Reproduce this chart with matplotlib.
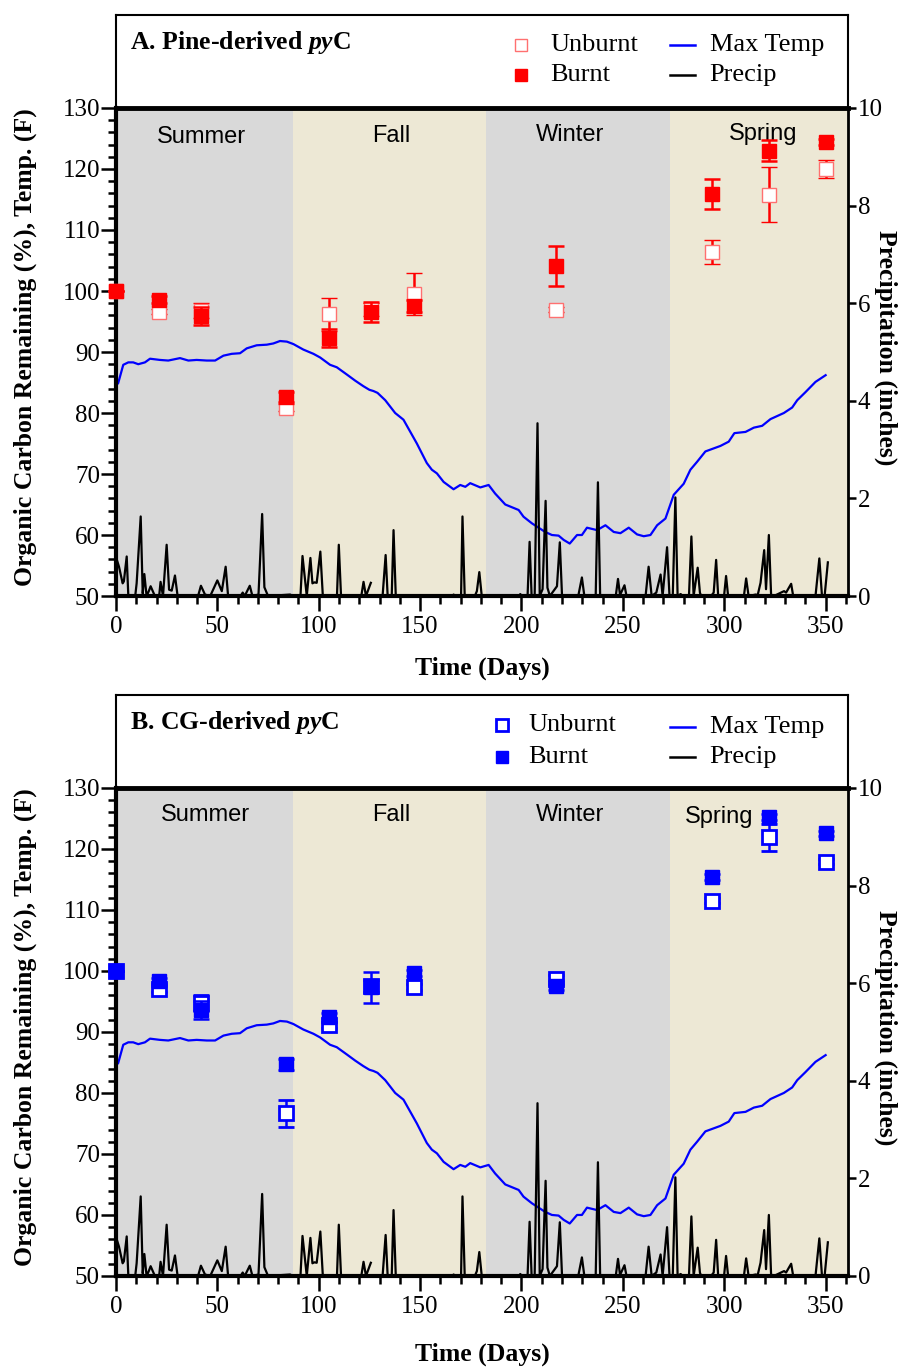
import numpy as np
import matplotlib.pyplot as plt
from matplotlib.ticker import MultipleLocator

plt.rcParams['font.family'] = ['Liberation Serif', 'DejaVu Serif']
plt.rcParams['mathtext.fontset'] = 'custom'
plt.rcParams['mathtext.rm'] = 'Liberation Serif:bold'
plt.rcParams['mathtext.it'] = 'Liberation Serif:italic:bold'

# daily max temperature (F)
temp_days = [0, 1.1, 3.6, 6.1, 8.5, 11, 14.3, 16.8, 21.7, 25.8, 31.6, 35.7, 39.8,
             44.8, 48.9, 53, 57.1, 61.2, 64.5, 69.4, 74.4, 77.6, 80.9, 84.3, 87.5,
             92.4, 97.4, 100.7, 105.6, 108.9, 113.9, 118, 122, 125, 127, 129,
             132.8, 137.7, 141.8, 148.4, 153.3, 155.8, 158.3, 161.6, 166.5, 169.8,
             172.3, 174.7, 179.7, 183.8, 187, 192, 198.6, 201, 205.2, 211.7, 215,
             218.3, 220.8, 223.8, 227.4, 229.8, 232.3, 237.3, 241.4, 245.5, 248.8,
             252.9, 257, 260.3, 263.6, 266.9, 271, 275.1, 280, 283.3, 286.6, 290.7,
             298.1, 302.2, 305, 310.5, 314.6, 318.7, 322.8, 329.4, 333.5, 336, 340,
             345, 350]
max_temp = [84.5, 84.9, 87.9, 88.3, 88.3, 88.0, 88.3, 88.9, 88.7, 88.6, 89.0, 88.6, 88.7,
            88.6, 88.6, 89.4, 89.7, 89.8, 90.6, 91.1, 91.2, 91.4, 91.8, 91.7, 91.3,
            90.4, 89.7, 89.1, 87.9, 87.5, 86.3, 85.3, 84.4, 83.8, 83.6, 83.3,
            82.1, 80.0, 78.9, 75.0, 71.8, 70.7, 70.1, 68.7, 67.5, 68.2,
            67.9, 68.5, 67.8, 68.2, 66.8, 65.0, 64.1, 63.0, 61.9, 60.5, 60.0,
            59.9, 59.2, 58.6, 60.0, 60.0, 61.2, 60.8, 61.6, 60.5, 60.3,
            61.2, 60.1, 59.8, 60.0, 61.6, 62.7, 66.6, 68.4, 70.7, 72.0, 73.7,
            74.6, 75.3, 76.7, 76.9, 77.6, 77.9, 79.0, 80.0, 80.9, 82.1, 83.4,
            85.1, 86.2]

# precipitation (inches); nan marks a gap in the record
precip_days = [0, 1.5, 3.3, 3.9, 5.3, 6.1, 9.5, 10.2, 12.2, 13.2, 14.0, 15.1, 16.2,
               17.1, 19.2, 21.3, 22.0, 23.2, 25.0, 26.2, 27.5, 29.1, 30.4, 40.5,
               41.9, 43.9, 46.5, 50.0, 52.2, 54.1, 55.3, 61.5, 62.5, 63.5, 66.0,
               67.3, 70.3, 72.1, 73.2, 75.0, 85.9, 87.3, 91.0, 92.0, 94.1, 95.9,
               96.9, 97.9, 99.0, 100.8, 102.0, 109.0, 109.9, 111.0, 121.0, 122.1,
               123.3, 125.7, 128.0, 131.5, 133.0, 134.0, 136.0, 136.9, 138.0,
               166.0, 166.5, 167.5, 170.2, 170.9, 172.0, 177.0, 177.5, 178.0,
               179.2, 180.4, 199.0, 199.4, 200.2, 203.0, 204.0, 205.0, 206.5, 207.9, 209.0,
               210.4, 211.9, 212.8, 214.0, 217.5, 218.9, 220.0, 228.0, 229.8, 231.0,
               236.6, 237.7, 238.8, 246.5, 247.6, 248.6, 250.8, 251.8, 261.2, 262.7,
               264.2, 266.5, 268.6, 269.6, 271.8, 273.0, 274.6, 275.9, 277.0, 278.5,
               279.5, 282.6, 283.8, 284.9, 286.9, 288.0, 288.6, 293.5, 294.8, 296.0,
               297.0, 299.9, 300.9, 301.9, 309.7, 310.8, 312.0, 315.5, 316.5, 317.9,
               319.7, 320.6, 322.0, 323.1, 324.5, 329.5, 330.5, 333.0, 334.0, 345.0,
               346.9, 348.2, 349.5, 351.1]
precip = [0.80, 0.60, 0.26, 0.30, 0.81, 0.0, 0.0, 0.26, 1.63, 0.05, 0.45, 0.0, 0.10,
          0.20, 0.0, 0.0, 0.29, 0.0, 1.05, 0.13, 0.11, 0.42, 0.0, 0.0,
          0.21, 0.03, 0.0, 0.32, 0.10, 0.60, 0.0, 0.0, 0.07, 0.0, 0.21,
          0.0, 0.03, 1.68, 0.18, 0.0, 0.03, 0.0, 0.0, 0.82, 0.0, 0.78,
          0.26, 0.28, 0.27, 0.91, 0.02, 0.0, 1.05, 0.0, 0.0, 0.29,
          0.0, 0.27, np.nan, 0.0, 0.84, 0.0, 0.0, 1.35, 0.0,
          0.0, 0.03, 0.0, 0.0, 1.63, 0.0, 0.0, 0.05, 0.10,
          0.49, 0.0, 0.0, 0.04, 0.0, 0.0, 1.11, 0.0, 0.0, 3.54, 0.0,
          0.14, 1.95, 0.17, 0.0, 0.20, 1.10, 0.0, 0.0, 0.38, 0.0,
          0.0, 2.33, 0.0, 0.0, 0.35, 0.02, 0.22, 0.0, 0.0, 0.60,
          0.0, 0.07, 0.44, 0.0, 1.00, 0.0, 0.0, 2.02, 0.0, 0.04,
          0.0, 0.0, 1.22, 0.0, 0.58, 0.07, 0.0, 0.0, 0.07, 0.74,
          0.0, 0.0, 0.41, 0.0, 0.0, 0.36, 0.0, 0.03, 0.02, 0.27,
          0.94, 0.14, 1.25, 0.03, 0.0, 0.10, 0.07, 0.25, 0.0, 0.0,
          0.77, 0.0, 0.0, 0.69]

season_names = ['Summer', 'Fall', 'Winter', 'Spring']
season_bounds = [(0, 87.3), (87.3, 182.7), (182.7, 273.3), (273.3, 361)]

sample_days = [0, 21, 42, 84, 105, 126, 147, 217, 294, 322, 350]

pine_unburnt = [100, 96.6, 96.8, 80.9, 96.2, 97.0, 99.5, 96.9, 106.4, 115.8, 120.0]
pine_unburnt_sd = [0, 0.4, 1.2, 0.5, 2.7, 1.1, 3.5, 0.4, 2.0, 4.5, 1.4]
pine_burnt = [100, 98.6, 95.9, 82.6, 92.3, 96.6, 97.5, 104.1, 115.9, 123.0, 124.4]
pine_burnt_sd = [0, 0.5, 1.5, 0.8, 1.4, 1.6, 1.0, 3.2, 2.5, 1.7, 0.5]

cg_unburnt = [100, 97.0, 94.8, 76.7, 91.2, 97.5, 97.3, 98.6, 111.5, 121.9, 117.9]
cg_unburnt_sd = [0, 0.5, 1.3, 2.2, 0.5, 1.0, 0.5, 0.8, 0.4, 2.2, 0.4]
cg_burnt = [100, 98.4, 93.6, 84.7, 92.4, 97.3, 99.7, 97.6, 115.4, 125.3, 122.6]
cg_burnt_sd = [0, 0.5, 1.5, 0.9, 0.7, 2.6, 0.5, 0.8, 0.5, 0.5, 0.4]

GRAY = '#d9d9d9'
BEIGE = '#ede8d5'
BLUE = '#0000ff'


def draw_panel(fig, ax_box, head_box, title, color, unb_edge, unb_mew,
               unburnt, unburnt_sd, burnt, burnt_sd, season_pos, leg, xlab_y):
    # header box with title and legend
    hd = fig.add_axes(head_box)
    hd.set_xlim(0, 1)
    hd.set_ylim(0, 1)
    hd.set_xticks([])
    hd.set_yticks([])
    for s in hd.spines.values():
        s.set_linewidth(1.5)
    hd.text(0.019, 0.70, title, fontsize=18.5, fontweight='bold', va='center')
    mx, tx, y1, y2, ly1 = leg
    hd.plot([mx], [y1], 's', ms=9, mfc='white', mec=unb_edge, mew=unb_mew)
    hd.plot([mx], [y2], 's', ms=9, mfc=color, mec=color)
    hd.text(tx, y1, 'Unburnt', fontsize=19, va='center')
    hd.text(tx, y2, 'Burnt', fontsize=19, va='center')
    hd.plot([0.757, 0.791], [ly1, ly1], color=BLUE, lw=1.8)
    hd.plot([0.757, 0.791], [y2, y2], color='black', lw=1.8)
    hd.text(0.811, ly1, 'Max Temp', fontsize=19, va='center')
    hd.text(0.811, y2, 'Precip', fontsize=19, va='center')

    ax = fig.add_axes(ax_box)
    shades = [GRAY, BEIGE, GRAY, BEIGE]
    for (a, b), shade, name, (sx, sy) in zip(season_bounds, shades, season_names, season_pos):
        ax.axvspan(a, b, color=shade, lw=0, zorder=0)
        ax.text(sx, sy, name, ha='center', va='center', fontsize=17,
                family='Liberation Sans', zorder=1)

    ax.plot(temp_days, max_temp, color=BLUE, lw=1.6, zorder=2)

    eb1 = ax.errorbar(sample_days, unburnt, yerr=unburnt_sd, fmt='s', ms=9.5,
                      mfc='white', mec=unb_edge, mew=unb_mew, ecolor=color,
                      elinewidth=1.8, capsize=6, capthick=1.8, zorder=3)
    eb2 = ax.errorbar(sample_days, burnt, yerr=burnt_sd, fmt='s', ms=9.5,
                      mfc=color, mec=color, ecolor=color,
                      elinewidth=1.8, capsize=6, capthick=1.8, zorder=4)
    for eb in (eb1, eb2):
        for art in eb.get_children():
            art.set_clip_on(False)

    ax.set_xlim(0, 361)
    ax.set_ylim(50, 130)
    ax.xaxis.set_major_locator(MultipleLocator(50))
    ax.xaxis.set_minor_locator(MultipleLocator(10))
    ax.yaxis.set_major_locator(MultipleLocator(10))
    ax.yaxis.set_minor_locator(MultipleLocator(2))
    ax.set_xticks(range(0, 351, 50))
    ax.tick_params(which='major', length=10.5, width=1.8, labelsize=18, direction='out')
    ax.tick_params(which='minor', length=6, width=1.8, direction='out')
    ax.tick_params(axis='y', pad=1)
    ax.tick_params(axis='x', pad=4)
    ax.spines['top'].set_linewidth(3.5)
    ax.spines['left'].set_linewidth(3)
    ax.spines['bottom'].set_linewidth(3)
    ax.spines['right'].set_visible(False)

    ax.text(-0.124, 0.51, 'Organic Carbon Remaining (%), Temp. (F)', transform=ax.transAxes,
            rotation=90, ha='center', va='center', fontsize=18.5, fontweight='bold')
    ax.text(0.5, xlab_y, 'Time (Days)', transform=ax.transAxes,
            ha='center', va='center', fontsize=18.5, fontweight='bold')

    ax2 = ax.twinx()
    ax2.plot(precip_days, precip, color='black', lw=1.6)
    ax2.set_ylim(0, 10)
    ax2.set_yticks(range(0, 11, 2))
    ax2.tick_params(length=6, width=1.8, labelsize=18, pad=1)
    for side in ('left', 'top', 'bottom'):
        ax2.spines[side].set_visible(False)
    ax2.spines['right'].set_linewidth(2)
    ax2.text(1.052, 0.508, 'Precipitation (inches)', transform=ax2.transAxes,
             rotation=270, ha='center', va='center', fontsize=18.5, fontweight='bold')


fig = plt.figure(figsize=(9.01, 13.67), dpi=100)

draw_panel(fig, [0.1287, 0.5640, 0.8124, 0.3570], [0.1287, 0.9210, 0.8124, 0.0680],
           r'A. Pine-derived $\mathit{py}$C', '#ff0000', '#ff7070', 1.0,
           pine_unburnt, pine_unburnt_sd, pine_burnt, pine_burnt_sd,
           [(42, 125.2), (135.7, 125.4), (224, 125.6), (319, 125.7)],
           (0.553, 0.593, 0.677, 0.355, 0.677), -0.1475)

draw_panel(fig, [0.1287, 0.0666, 0.8124, 0.3570], [0.1287, 0.4236, 0.8124, 0.0680],
           r'B. CG-derived $\mathit{py}$C', BLUE, BLUE, 2.0,
           cg_unburnt, cg_unburnt_sd, cg_burnt, cg_burnt_sd,
           [(44, 125.6), (135.7, 125.6), (224, 125.6), (297.6, 125.3)],
           (0.527, 0.563, 0.677, 0.333, 0.656), -0.16)

fig.savefig('out.png', dpi=100)
